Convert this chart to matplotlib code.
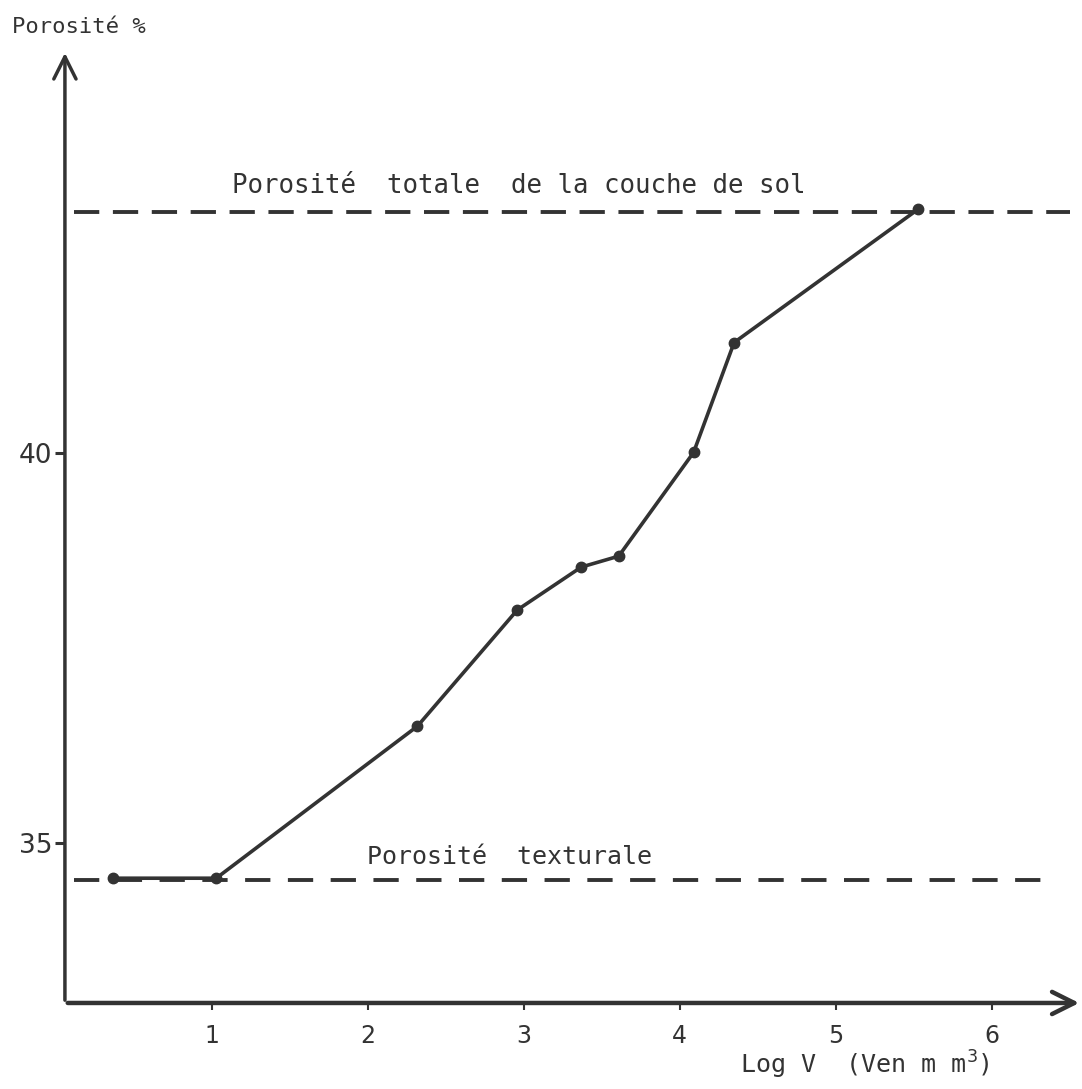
import matplotlib.pyplot as plt
import numpy as np

# values
log_v = [0.37, 1.03, 2.32, 2.96, 3.37, 3.61, 4.09, 4.35, 5.53]
porosite = [34.55, 34.55, 36.50, 37.99, 38.54, 38.68, 40.01, 41.42, 43.13]

porosite_totale = 43.10
porosite_texturale = 34.53

x_ticks = [1, 2, 3, 4, 5, 6]
y_ticks = [35, 40]

ink = '#333333'
plt.rcParams['font.family'] = ['DejaVu Sans']
mono = ['DejaVu Sans Mono', 'DejaVu Sans']

fig = plt.figure(figsize=(10.82, 10.89), dpi=100)
ax = fig.add_axes([0.060, 0.079, 0.940, 0.875])
xmin, xmax = 0.06, 6.58
ymin, ymax = 32.95, 45.17
ax.set_xlim(xmin, xmax)
ax.set_ylim(ymin, ymax)

for s in ax.spines.values():
    s.set_visible(False)

# axes drawn as arrows
ax.annotate('', xy=(xmax, ymin), xytext=(xmin, ymin),
            arrowprops=dict(arrowstyle='->', color=ink, lw=3.2, mutation_scale=40),
            annotation_clip=False)
ax.annotate('', xy=(xmin, ymax), xytext=(xmin, ymin),
            arrowprops=dict(arrowstyle='->', color=ink, lw=2.5, mutation_scale=40),
            annotation_clip=False)

# horizontal reference levels
ax.plot([0.12, 6.50], [porosite_totale] * 2, color=ink, lw=2.8, dashes=(6.5, 3.5))
ax.plot([0.12, 6.34], [porosite_texturale] * 2, color=ink, lw=2.8, dashes=(6.5, 4.5))

# measured curve
ax.plot(log_v, porosite, color=ink, lw=2.6, marker='o', markersize=7.5)

ax.set_xticks(x_ticks)
ax.set_yticks(y_ticks)
ax.tick_params(axis='x', direction='out', length=5, width=1.5, color=ink,
               labelsize=17, labelcolor=ink, pad=10)
ax.tick_params(axis='y', direction='out', length=7, width=2.2, color=ink,
               labelsize=19, labelcolor=ink, pad=2)

ax.text(0.011, 0.975, 'Porosité %', transform=fig.transFigure, family=mono,
        fontsize=16, color=ink, va='center', ha='left')
ax.text(0.214, 0.829, 'Porosité  totale  de la couche de sol',
        transform=fig.transFigure, family=mono, fontsize=18.5, color=ink,
        va='center', ha='left')
ax.text(0.339, 0.213, 'Porosité  texturale', transform=fig.transFigure,
        family=mono, fontsize=18, color=ink, va='center', ha='left')
ax.text(0.684, 0.022, 'Log V  (Ven m m$^3$)', transform=fig.transFigure,
        family=mono, fontsize=18, color=ink, va='center', ha='left')

fig.savefig('out.png', dpi=100, facecolor='white')
